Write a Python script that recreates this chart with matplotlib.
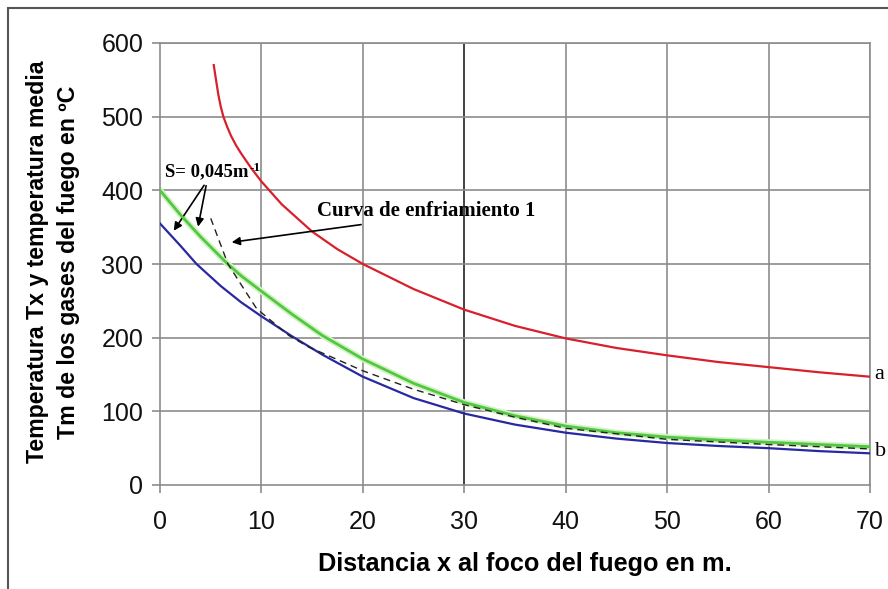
import matplotlib
matplotlib.use("Agg")
import matplotlib.pyplot as plt
from matplotlib.patches import Rectangle

# Temperature curves vs distance from the fire source
x_red = [5.3, 5.5, 5.75, 6.0, 6.25, 6.6, 7.0, 7.5, 8.0, 9.0, 10, 12, 15, 17.5, 20, 25, 30, 35, 40, 45, 50, 55, 60, 65, 70]
t_red = [570, 552, 530, 513, 500, 487, 474, 461, 450, 430, 412, 381, 344, 320, 300, 266, 238, 216, 199, 186, 176, 167, 160, 153, 147]

x_green = [0, 2, 4, 6.6, 8, 10, 13, 16, 20, 25, 30, 35, 40, 45, 50, 55, 60, 65, 70]
t_green = [400, 367, 337, 301, 284, 263, 232, 203, 171, 138, 112, 94, 80, 71, 65, 61, 58, 55, 52]

x_blue = [0, 2, 3.6, 6, 8, 10, 13, 16, 20, 25, 30, 35, 40, 45, 50, 55, 60, 65, 70]
t_blue = [355, 325, 300, 270, 248, 229, 202, 177, 147, 118, 97, 82, 71, 63, 57, 53, 50, 46, 43]

x_dash = [5.0, 6.7, 8, 9.45, 10, 12.7, 14.7, 17.7, 20, 25, 30, 35, 40, 50, 60, 70]
t_dash = [362, 300, 272, 241, 234, 203, 187, 169, 155, 130, 109, 92, 77, 62, 55, 49]

x_ticks = [0, 10, 20, 30, 40, 50, 60, 70]
y_ticks = [0, 100, 200, 300, 400, 500, 600]

fig = plt.figure(figsize=(8.88, 5.89), dpi=100)
fig.patches.append(Rectangle((8 / 888, -0.1), 1.2, 1 - 8 / 589 + 0.1,
                             transform=fig.transFigure, fill=False,
                             edgecolor="#555555", linewidth=1.5))

ax = fig.add_axes([160 / 888, 1 - 485 / 589, 710 / 888, 442 / 589])

grid_c = "#8c8c8c"
for xv in x_ticks[1:]:
    ax.axvline(xv, color="#222222" if xv == 30 else grid_c, lw=1.2, zorder=1)
for yv in y_ticks[1:]:
    ax.axhline(yv, color=grid_c, lw=1.2, zorder=1)

# soft halo under the green line
ax.plot(x_green, t_green, color="#d4f2c4", lw=4.5, solid_capstyle="round", zorder=2)
ax.plot(x_red, t_red, color="#d8202c", lw=1.6, zorder=3)
ax.plot(x_blue, t_blue, color="#2828a0", lw=1.6, zorder=3)
ax.plot(x_green, t_green, color="#52c842", lw=2.0, zorder=4)
ax.plot(x_dash, t_dash, color="#222222", lw=1.0, ls=(0, (5, 3.5)), zorder=5)

ax.set_xlim(0, 70)
ax.set_ylim(0, 600)
ax.set_xticks(x_ticks)
ax.set_yticks(y_ticks)
for s in ax.spines.values():
    s.set_color(grid_c)
    s.set_linewidth(1.2)
ax.tick_params(axis="both", colors=grid_c, length=6, width=1.2,
               labelcolor="#111111", labelsize=18)
ax.tick_params(axis="y", pad=6)
ax.tick_params(axis="x", pad=12)
for lab in ax.get_yticklabels() + ax.get_xticklabels():
    lab.set_family("Liberation Sans")

ax.set_xlabel("Distancia x al foco del fuego en m.", family="Liberation Sans",
              fontweight="bold", fontsize=18.2, labelpad=13)
ax.xaxis.label.set_x(0.514)
fig.text(38 / 888, 1 - 262 / 589, "Temperatura Tx y temperatura media",
         rotation=90, ha="center", va="center", family="Liberation Sans",
         fontweight="bold", fontsize=16.7)
fig.text(69 / 888, 1 - 262 / 589, "Tm de los gases del fuego en ºC",
         rotation=90, ha="center", va="center", family="Liberation Sans",
         fontweight="bold", fontsize=16.7)

serif = "Liberation Serif"
s_txt = ax.text(0.5, 425, "S= 0,045m", family=serif, fontweight="bold",
                fontsize=13.5, ha="left", va="center")
arrow_kw = dict(arrowstyle="-|>", color="black", lw=1.2, mutation_scale=12)
ax.annotate("", xy=(1.2, 342), xytext=(4.5, 410), arrowprops=arrow_kw)
ax.annotate("", xy=(3.7, 347), xytext=(4.6, 410), arrowprops=arrow_kw)

ax.text(15.5, 372, "Curva de enfriamiento 1", family=serif, fontweight="bold",
        fontsize=15, ha="left", va="center")
ax.annotate("", xy=(6.8, 329), xytext=(20.1, 354), arrowprops=arrow_kw)

ax.text(70.45, 150, "a", family=serif, fontsize=16, ha="left", va="center",
        clip_on=False)
ax.text(70.45, 45, "b", family=serif, fontsize=16, ha="left", va="center",
        clip_on=False)

# superscript "-1" placed right after the unit text
fig.canvas.draw()
bb = s_txt.get_window_extent()
ax.annotate("-1", xy=(bb.x1 + 1, bb.y1 + 1), xycoords="figure pixels",
            family=serif, fontweight="bold", fontsize=9.5, ha="left", va="top")

fig.savefig("out.png", dpi=100)
